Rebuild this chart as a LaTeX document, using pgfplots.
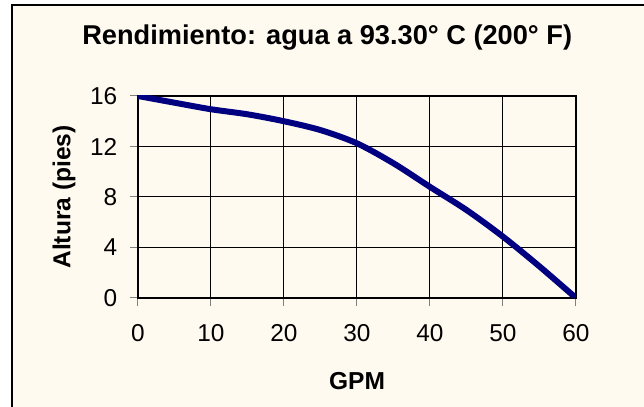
\documentclass[border=0pt]{standalone}
\usepackage{pgfplots}
\pgfplotsset{compat=1.18}
\usepackage{fontspec}
\setmainfont{Liberation Sans}
\definecolor{cream}{RGB}{255,250,240}
\definecolor{navyline}{RGB}{0,0,128}
\begin{document}
\begin{tikzpicture}
\useasboundingbox (0,0) rectangle (483pt,305.25pt);
\begin{scope}
\clip (0,0) rectangle (483pt,305.25pt);
\draw[fill=cream, line width=1pt] (9pt,-10pt) rectangle (495pt,301.5pt);
\end{scope}
\begin{axis}[
  at={(103.5pt,81.75pt)}, anchor=south west,
  scale only axis, width=328.5pt, height=151.5pt,
  xmin=0, xmax=60, ymin=0, ymax=16,
  xtick={0,10,...,60}, ytick={0,4,...,16},
  grid=major,
  major grid style={black, line width=0.75pt},
  axis line style={black, line width=1.5pt},
  tick align=outside, major tick length=6pt,
  tick style={gray, line width=0.75pt},
  /pgf/number format/assume math mode=true,
  ticklabel style={font=\fontsize{18.3}{21}\selectfont},
  xtick pos=bottom, ytick pos=left,
  xticklabel style={yshift=-10pt},
  yticklabel style={xshift=-6pt},
  axis background/.style={fill=cream},
  title={\bfseries Rendimiento: agua a 93.30° C (200° F)},
  title style={font=\fontsize{20.4}{24}\selectfont, at={(axis description cs:0.432,1.252)}, anchor=center},
  xlabel={\bfseries GPM},
  xlabel style={font=\fontsize{18.4}{22}\selectfont, at={(axis description cs:0.5,-0.411)}, anchor=center},
  ylabel={\bfseries Altura (pies)},
  ylabel style={font=\fontsize{18.4}{22}\selectfont, at={(axis description cs:-0.169,0.5)}, anchor=center, rotate=0},
]
\addplot[navyline, line width=4.5pt, smooth] coordinates {
(0,16) (5,15.47) (10,14.95) (15,14.55) (20,14.0) (25,13.3) (30,12.25)
(35,10.67) (40,8.8) (45,6.97) (50,4.86) (55,2.5) (60,0)
};
\end{axis}
\end{tikzpicture}
\end{document}
